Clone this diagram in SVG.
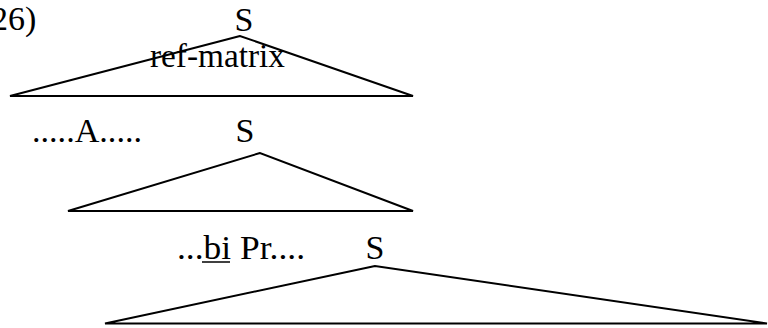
<svg xmlns="http://www.w3.org/2000/svg" width="768" height="328" viewBox="0 0 768 328">
<style>
text{font-family:"Liberation Serif","Times New Roman",Times,serif;font-size:34px;fill:#000}
.tri{fill:none;stroke:#000;stroke-width:2;stroke-linejoin:miter}
.mid{text-anchor:middle}
</style>
<rect width="768" height="328" fill="#fff"/>
<text x="-9" y="30">26)</text>
<g id="s1">
<polygon class="tri" points="240,36 10,96 413,96"/>
<text class="mid" x="244" y="31">S</text>
<text x="150" y="67" textLength="135" lengthAdjust="spacingAndGlyphs">ref-matrix</text>
</g>
<g id="s2">
<text x="32" y="142" textLength="110" lengthAdjust="spacingAndGlyphs">.....A.....</text>
<polygon class="tri" points="260,153 68,211 413,211"/>
<text class="mid" x="245" y="142">S</text>
</g>
<g id="s3">
<text x="177" y="259" textLength="128" lengthAdjust="spacingAndGlyphs">...bi Pr....</text>
<line x1="202" y1="262" x2="230" y2="262" stroke="#000" stroke-width="1.5"/>
<polygon class="tri" points="375,266 105,323.5 767,323.5"/>
<text class="mid" x="375" y="259">S</text>
</g>
<g id="connectors"></g>
</svg>
